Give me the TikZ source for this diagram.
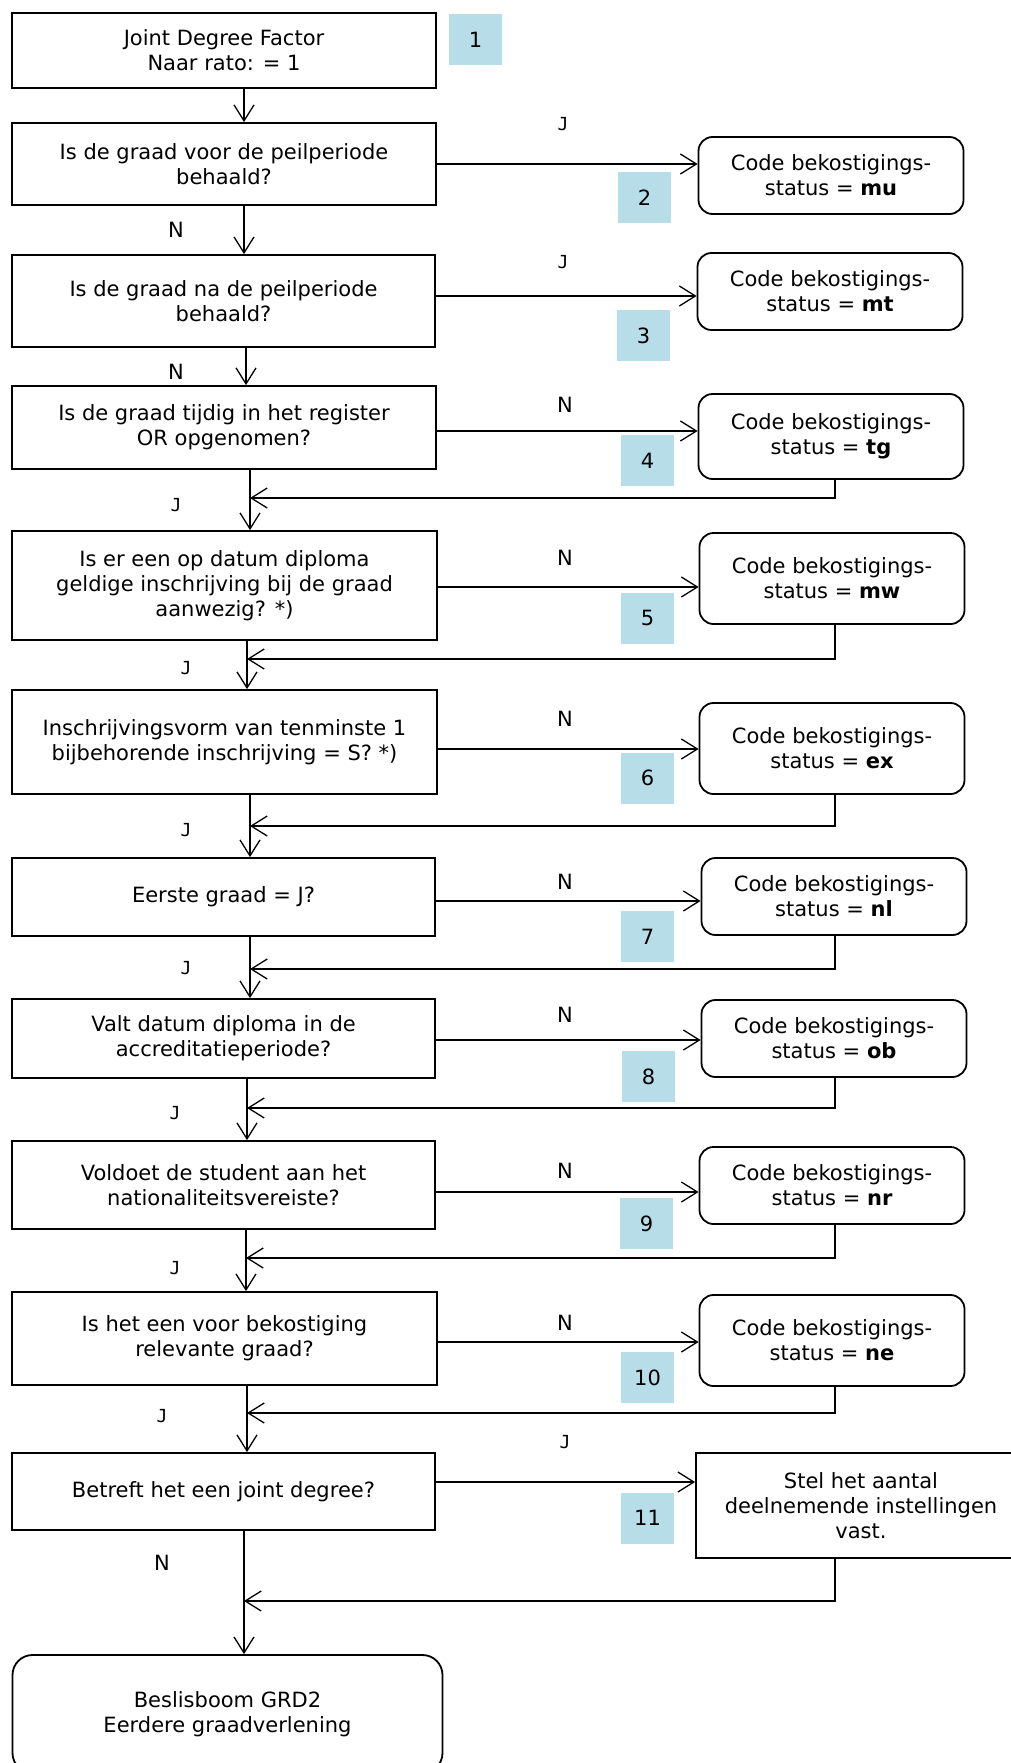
\documentclass[tikz,border=0pt]{standalone}
\usepackage{fontspec}
\setmainfont{DejaVu Sans}
\newfontfamily\jfont{DejaVu Sans Mono}
\usetikzlibrary{arrows.meta}
\definecolor{nrblue}{RGB}{183,221,232}

\begin{document}
\begin{tikzpicture}[x=1pt,y=-1pt,line width=1.3pt,
		font=\fontsize{21}{25}\selectfont,
		vraag/.style={draw,line width=1.8pt,rectangle,align=center,inner sep=0pt},
		uitkomst/.style={draw,line width=1.8pt,rounded corners=14pt,align=center,inner sep=0pt,minimum width=265pt},
		nummer/.style={fill=nrblue,minimum width=53pt,minimum height=51pt,inner sep=0pt},
		pijl/.style={-{Straight Barb[length=16pt,width=20pt]}},
		jlabel/.style={font=\jfont\fontsize{18}{20}\selectfont}]
	\useasboundingbox (0,0) rectangle (1010,1763);

	% hoofdkolom
	\node[vraag,minimum width=424pt,minimum height=75pt] (start) at (224,50.5) {Joint Degree Factor\\Naar rato: = 1};
	\node[vraag,minimum width=424pt,minimum height=82pt] (q1) at (224,164) {Is de graad voor de peilperiode\\behaald?};
	\node[vraag,minimum width=423pt,minimum height=92pt] (q2) at (223.5,301) {Is de graad na de peilperiode\\behaald?};
	\node[vraag,minimum width=424pt,minimum height=83pt] (q3) at (224,427.5) {Is de graad tijdig in het register\\OR opgenomen?};
	\node[vraag,minimum width=425pt,minimum height=109pt] (q4) at (224.5,585.5) {Is er een op datum diploma\\geldige inschrijving bij de graad\\aanwezig? *)};
	\node[vraag,minimum width=425pt,minimum height=104pt] (q5) at (224.5,742) {Inschrijvingsvorm van tenminste 1\\bijbehorende inschrijving = S? *)};
	\node[vraag,minimum width=423pt,minimum height=78pt] (q6) at (223.5,897) {Eerste graad = J?};
	\node[vraag,minimum width=423pt,minimum height=79pt] (q7) at (223.5,1038.5) {Valt datum diploma in de\\accreditatieperiode?};
	\node[vraag,minimum width=423pt,minimum height=88pt] (q8) at (223.5,1185) {Voldoet de student aan het\\nationaliteitsvereiste?};
	\node[vraag,minimum width=425pt,minimum height=93pt] (q9) at (224.5,1338.5) {Is het een voor bekostiging\\relevante graad?};
	\node[vraag,minimum width=423pt,minimum height=77pt] (q10) at (223.5,1491.5) {Betreft het een joint degree?};
	\node[draw,line width=1.8pt,rounded corners=20pt,align=center,minimum width=430pt,minimum height=118pt] (eind) at (227.5,1714) {Beslisboom GRD2\\Eerdere graadverlening};

	% uitkomsten
	\node[uitkomst,minimum height=77pt] (mu) at (831,175.5) {Code bekostigings-\\status = \textbf{mu}};
	\node[uitkomst,minimum height=77pt] (mt) at (830,291.5) {Code bekostigings-\\status = \textbf{mt}};
	\node[uitkomst,minimum height=85pt] (tg) at (831,436.5) {Code bekostigings-\\status = \textbf{tg}};
	\node[uitkomst,minimum height=91pt] (mw) at (832,578.5) {Code bekostigings-\\status = \textbf{mw}};
	\node[uitkomst,minimum height=91pt] (ex) at (832,748.5) {Code bekostigings-\\status = \textbf{ex}};
	\node[uitkomst,minimum height=77pt] (nl) at (834,896.5) {Code bekostigings-\\status = \textbf{nl}};
	\node[uitkomst,minimum height=77pt] (ob) at (834,1038.5) {Code bekostigings-\\status = \textbf{ob}};
	\node[uitkomst,minimum height=77pt] (nr) at (832,1185.5) {Code bekostigings-\\status = \textbf{nr}};
	\node[uitkomst,minimum height=91pt] (ne) at (832,1340.5) {Code bekostigings-\\status = \textbf{ne}};
	\node[vraag,minimum width=330pt,minimum height=105pt] (stel) at (861,1505.5) {Stel het aantal\\deelnemende instellingen\\vast.};

	% nummers
	\node[nummer] (n1) at (475.5,39.5) {1};
	\node[nummer] (n2) at (644.5,197.5) {2};
	\node[nummer] (n3) at (643.5,335.5) {3};
	\node[nummer] (n4) at (647.5,460.5) {4};
	\node[nummer] (n5) at (647.5,618) {5};
	\node[nummer] (n6) at (647.5,778) {6};
	\node[nummer] (n7) at (647.5,936.5) {7};
	\node[nummer] (n8) at (648.5,1076.5) {8};
	\node[nummer] (n9) at (646.5,1223.5) {9};
	\node[nummer] (n10) at (647.5,1377.5) {10};
	\node[nummer] (n11) at (647.5,1518) {11};

	% ja/nee
	\node[jlabel] (j1) at (563,124) {J};
	\node (nee1) at (176,230) {N};
	\node[jlabel] (j2) at (563,262) {J};
	\node (nee2) at (176,372) {N};
	\node (nee3) at (565,405) {N};
	\node[jlabel] (j3) at (176,505) {J};
	\node (nee4) at (565,558) {N};
	\node[jlabel] (j4) at (186,668) {J};
	\node (nee5) at (565,719) {N};
	\node[jlabel] (j5) at (186,830) {J};
	\node (nee6) at (565,882) {N};
	\node[jlabel] (j6) at (186,968) {J};
	\node (nee7) at (565,1015) {N};
	\node[jlabel] (j7) at (175,1113) {J};
	\node (nee8) at (565,1171) {N};
	\node[jlabel] (j8) at (175,1268) {J};
	\node (nee9) at (565,1323) {N};
	\node[jlabel] (j9) at (162,1416) {J};
	\node[jlabel] (j10) at (565,1442) {J};
	\node (nee10) at (162,1563) {N};

	% samenkomst
	\coordinate (terug) at (835,0);
	\coordinate (m3) at (250,498);
	\coordinate (m4) at (247,659);
	\coordinate (m5) at (250,826);
	\coordinate (m6) at (250,969);
	\coordinate (m7) at (247,1108);
	\coordinate (m8) at (246,1258);
	\coordinate (m9) at (247,1413);
	\coordinate (m10) at (244,1601);

	% pijlen omlaag
	\draw[pijl] (start.south -| 244,0) -- (q1.north -| 244,0);
	\draw[pijl] (q1.south -| 244,0) -- (q2.north -| 244,0);
	\draw[pijl] (q2.south -| 246,0) -- (q3.north -| 246,0);
	\draw[pijl] (q3.south -| m3) -- (q4.north -| m3);
	\draw[pijl] (q4.south -| m4) -- (q5.north -| m4);
	\draw[pijl] (q5.south -| m5) -- (q6.north -| m5);
	\draw[pijl] (q6.south -| m6) -- (q7.north -| m6);
	\draw[pijl] (q7.south -| m7) -- (q8.north -| m7);
	\draw[pijl] (q8.south -| m8) -- (q9.north -| m8);
	\draw[pijl] (q9.south -| m9) -- (q10.north -| m9);
	\draw[pijl] (q10.south -| m10) -- (eind.north -| m10);

	% pijlen naar rechts
	\draw[pijl] (q1.east |- 0,164) -- (mu.west |- 0,164);
	\draw[pijl] (q2.east |- 0,296) -- (mt.west |- 0,296);
	\draw[pijl] (q3.east |- 0,431) -- (tg.west |- 0,431);
	\draw[pijl] (q4.east |- 0,587) -- (mw.west |- 0,587);
	\draw[pijl] (q5.east |- 0,749) -- (ex.west |- 0,749);
	\draw[pijl] (q6.east |- 0,901) -- (nl.west |- 0,901);
	\draw[pijl] (q7.east |- 0,1040) -- (ob.west |- 0,1040);
	\draw[pijl] (q8.east |- 0,1192) -- (nr.west |- 0,1192);
	\draw[pijl] (q9.east |- 0,1342) -- (ne.west |- 0,1342);
	\draw[pijl] (q10.east |- 0,1482) -- (stel.west |- 0,1482);

	% terug naar de hoofdkolom
	\draw[pijl] (tg.south -| terug) |- (m3);
	\draw[pijl] (mw.south -| terug) |- (m4);
	\draw[pijl] (ex.south -| terug) |- (m5);
	\draw[pijl] (nl.south -| terug) |- (m6);
	\draw[pijl] (ob.south -| terug) |- (m7);
	\draw[pijl] (nr.south -| terug) |- (m8);
	\draw[pijl] (ne.south -| terug) |- (m9);
	\draw[pijl] (stel.south -| terug) |- (m10);
\end{tikzpicture}
\end{document}
